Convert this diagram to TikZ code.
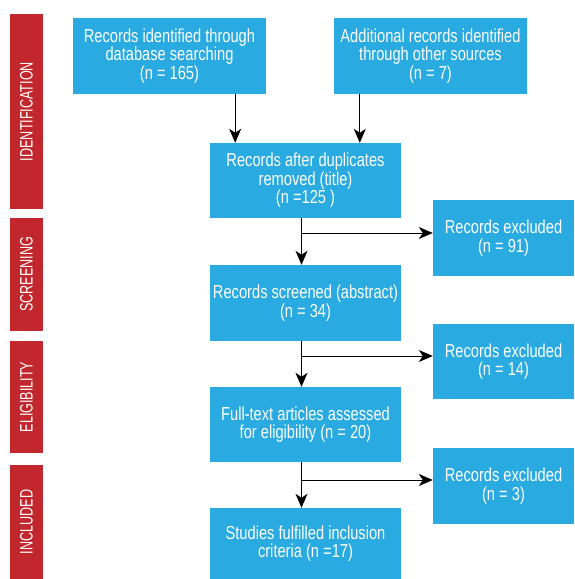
\documentclass[tikz,border=0pt]{standalone}
\usepackage{fontspec}
\setmainfont[FakeStretch=0.78]{Liberation Sans}
\newfontfamily\barfont[FakeStretch=0.70]{Liberation Sans}
\usetikzlibrary{arrows.meta,calc}
\definecolor{boxblue}{RGB}{41,170,224}
\definecolor{barred}{RGB}{193,39,45}
\tikzset{
  flowbox/.style={fill=boxblue,draw=none,text=white,align=center,inner sep=0pt,
    font=\fontsize{18.8}{18.5}\selectfont},
  phasebar/.style={fill=barred,draw=none,text=white,inner sep=0pt,
    minimum width=33pt,font=\barfont\fontsize{18}{18}\selectfont},
  arr/.style={draw=black,line width=1pt,-{Stealth[length=14pt,width=12pt,inset=4pt]}},
  plainline/.style={draw=black,line width=1pt}
}
\begin{document}
\begin{tikzpicture}[x=1pt,y=-1pt]
\useasboundingbox (0,0) rectangle (574,579);
% phase bars
\node[phasebar,minimum height=195pt] (pid) at (26.5,111.5) {\rotatebox{90}{IDENTIFICATION}};
\node[phasebar,minimum height=113pt] (psc) at (26.5,274.5) {\rotatebox{90}{SCREENING}};
\node[phasebar,minimum height=112pt] (pel) at (26.5,397) {\rotatebox{90}{ELIGIBILITY}};
\node[phasebar,minimum height=114pt] (pin) at (26.5,522) {\rotatebox{90}{INCLUDED}};
% boxes
\node[flowbox,minimum width=193pt,minimum height=76pt] (b1) at (169.5,56)
  {Records identified through\\database searching\\(n = 165)};
\node[flowbox,minimum width=193pt,minimum height=76pt] (b2) at (430.5,56)
  {Additional records identified\\through other sources\\(n = 7)};
\node[flowbox,minimum width=191pt,minimum height=75pt] (b3) at (305.5,180.5)
  {Records after duplicates\\removed (title)\\(n =125 )};
\node[flowbox,minimum width=141pt,minimum height=76pt] (e1) at (503.5,238)
  {Records excluded\\(n = 91)};
\node[flowbox,minimum width=191pt,minimum height=76pt] (b4) at (305.5,303)
  {Records screened (abstract)\\(n = 34)};
\node[flowbox,minimum width=141pt,minimum height=75pt] (e2) at (503.5,361.5)
  {Records excluded\\(n = 14)};
\node[flowbox,minimum width=191pt,minimum height=75pt] (b5) at (305.5,424.5)
  {Full-text articles assessed\\for eligibility (n = 20)};
\node[flowbox,minimum width=141pt,minimum height=76pt] (e3) at (503.5,486)
  {Records excluded\\(n = 3)};
\node[flowbox,minimum width=191pt,minimum height=71pt] (b6) at (305.5,543.5)
  {Studies fulfilled inclusion\\criteria (n =17)};
% arrows from identification boxes
\draw[arr] ([xshift=-31pt]b1.south east) -- ([xshift=-31pt]b1.south east |- b3.north);
\draw[arr] ([xshift=26pt]b2.south west) -- ([xshift=26pt]b2.south west |- b3.north);
% main flow with branches
\coordinate (j1) at ([xshift=-4pt]b3.south |- 0,233);
\coordinate (j2) at ([xshift=-4pt]b4.south |- 0,356);
\coordinate (j3) at ([xshift=-4pt]b5.south |- 0,480);
\draw[arr] ([xshift=-4pt]b3.south) -- ([xshift=-4pt]b4.north);
\draw[arr] (j1) -- (j1 -| e1.west);
\draw[arr] ([xshift=-4pt]b4.south) -- ([xshift=-4pt]b5.north);
\draw[arr] (j2) -- (j2 -| e2.west);
\draw[arr] ([xshift=-4pt]b5.south) -- ([xshift=-4pt]b6.north);
\draw[arr] (j3) -- (j3 -| e3.west);
\end{tikzpicture}
\end{document}
